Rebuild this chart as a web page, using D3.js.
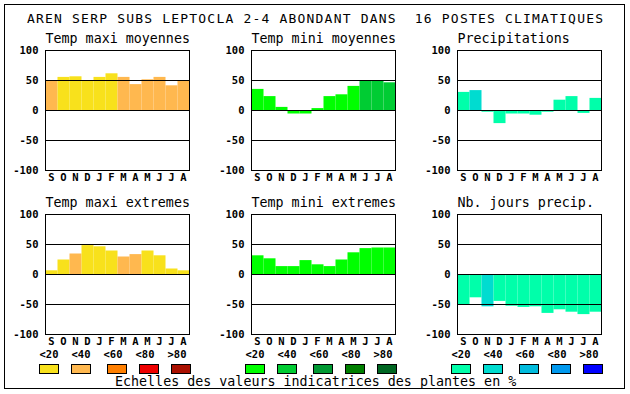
<!DOCTYPE html>
<html>
<head>
<meta charset="utf-8">
<script src="https://cdn.jsdelivr.net/npm/d3@7"></script>
<style>
  body { margin:0; background:#fff; }
  svg text { font-family:"DejaVu Sans Mono", monospace; }
</style>
</head>
<body>
<div class="chart"></div>
<script>
const months = ['S','O','N','D','J','F','M','A','M','J','J','A'];
const ticks = [100, 50, 0, -50, -100];
const classLabels = ['<20','<40','<60','<80','>80'];

const titles = ['Temp maxi moyennes','Temp mini moyennes','Precipitations',
                'Temp maxi extremes','Temp mini extremes','Nb. jours precip.'];

// values (%), and the class (0..4) of each bar
const tmaxMoy      = [50, 56, 57, 50, 56, 62, 56, 44, 52, 56, 42, 50];
const tmaxMoyClass = [1, 0, 0, 0, 0, 0, 1, 1, 1, 1, 1, 1];
const tminMoy      = [36, 24, 6, -5, -5, 4, 24, 27, 41, 50, 50, 47];
const tminMoyClass = [0, 0, 0, 0, 0, 0, 0, 0, 0, 1, 1, 1];
const precip       = [31, 34, -2, -21, -5, -5, -7, -2, 18, 24, -4, 21];
const precipClass  = [0, 1, 0, 0, 0, 0, 0, 0, 0, 0, 0, 0];
const tmaxExt      = [7, 25, 35, 49, 47, 40, 30, 34, 40, 32, 10, 7];
const tmaxExtClass = [0, 0, 1, 0, 0, 0, 1, 1, 0, 0, 0, 0];
const tminExt      = [32, 27, 14, 14, 24, 17, 14, 25, 37, 44, 45, 45];
const tminExtClass = [0, 0, 0, 0, 0, 0, 0, 0, 0, 0, 0, 0];
const nbJours      = [-50, -38, -53, -44, -52, -54, -53, -64, -58, -62, -66, -62];
const nbJoursClass = [0, 0, 1, 0, 0, 0, 0, 0, 0, 0, 0, 0];

const warm = ['#f8e11c','#ffb84f','#ff7f00','#ee0000','#aa1000'];
const cool = ['#00ff00','#00cc33','#009933','#007f00','#006622'];
const wet  = ['#00ffaa','#00dcd0','#00bbdd','#0099ee','#0000ff'];

const panels = [
  {title:titles[0], values:tmaxMoy, cls:tmaxMoyClass, palette:warm},
  {title:titles[1], values:tminMoy, cls:tminMoyClass, palette:cool},
  {title:titles[2], values:precip,  cls:precipClass,  palette:wet},
  {title:titles[3], values:tmaxExt, cls:tmaxExtClass, palette:warm},
  {title:titles[4], values:tminExt, cls:tminExtClass, palette:cool},
  {title:titles[5], values:nbJours, cls:nbJoursClass, palette:wet}
];

const W = 630, H = 394;
const svg = d3.select('.chart')
  .append('svg')
  .attr('width', W)
  .attr('height', H);

svg.append('rect')
  .attr('x', 4.5).attr('y', 4.5)
  .attr('width', 620).attr('height', 384)
  .attr('fill', 'none').attr('stroke', 'black');

svg.append('text')
  .attr('x', 27).attr('y', 23)
  .attr('font-size', 13)
  .attr('textLength', 576)
  .attr('lengthAdjust', 'spacing')
  .style('white-space', 'pre')
  .text('AREN SERP SUBS LEPTOCLA 2-4 ABONDANT DANS  16 POSTES CLIMATIQUES');

const colX = [45.5, 251.5, 457.5];
const rowY = [50.5, 214.5];
const pw = 144, ph = 120;

panels.forEach((p, i) => {
  const x0 = colX[i % 3], y0 = rowY[Math.floor(i / 3)];
  const g = svg.append('g');

  const xScale = d3.scaleBand()
    .domain(d3.range(months.length))
    .range([x0, x0 + pw])
    .padding(0);

  const yScale = d3.scaleLinear()
    .domain([-100, 100])
    .range([y0 + ph, y0]);

  g.append('text')
    .attr('x', x0).attr('y', y0 - 7.5)
    .attr('font-size', 13.33)
    .text(p.title);

  g.selectAll('.bar')
    .data(p.values)
    .enter()
    .append('rect')
    .attr('x', (d, k) => xScale(k))
    .attr('width', xScale.bandwidth())
    .attr('y', d => yScale(Math.max(0, d)))
    .attr('height', d => Math.abs(yScale(d) - yScale(0)))
    .attr('fill', (d, k) => p.palette[p.cls[k]]);

  g.selectAll('.grid')
    .data([50, 0, -50])
    .enter()
    .append('line')
    .attr('x1', x0).attr('x2', x0 + pw)
    .attr('y1', d => yScale(d)).attr('y2', d => yScale(d))
    .attr('stroke', 'black');

  g.append('rect')
    .attr('x', x0).attr('y', y0)
    .attr('width', pw).attr('height', ph)
    .attr('fill', 'none').attr('stroke', 'black');

  g.selectAll('.tick')
    .data(ticks)
    .enter()
    .append('text')
    .attr('x', x0 - 7)
    .attr('y', d => yScale(d) + 3.5)
    .attr('text-anchor', 'end')
    .attr('font-size', 10.5)
    .attr('font-weight', 'bold')
    .text(d => d);

  g.selectAll('.month')
    .data(months)
    .enter()
    .append('text')
    .attr('x', (d, k) => xScale(k) + xScale.bandwidth() / 2)
    .attr('y', y0 + ph + 10)
    .attr('text-anchor', 'middle')
    .attr('font-size', 10.5)
    .attr('font-weight', 'bold')
    .text(d => d);
});

// legends
const palettes = [warm, cool, wet];
const legendX = [39.5, 245.5, 451.5];
const boxOffset = [0, 32, 68, 100, 132];
palettes.forEach((pal, j) => {
  svg.selectAll('.lab' + j)
    .data(classLabels)
    .enter()
    .append('text')
    .attr('x', (d, k) => legendX[j] + k * 32)
    .attr('y', 357.5)
    .attr('font-size', 10.5)
    .attr('font-weight', 'bold')
    .text(d => d);

  svg.selectAll('.box' + j)
    .data(pal)
    .enter()
    .append('rect')
    .attr('x', (d, k) => legendX[j] + boxOffset[k])
    .attr('y', 364.5)
    .attr('width', 19)
    .attr('height', 9)
    .attr('fill', d => d)
    .attr('stroke', 'black');
});

svg.append('text')
  .attr('x', 115).attr('y', 386)
  .attr('font-size', 13.33)
  .text('Echelles des valeurs indicatrices des plantes en %');
</script>
</body>
</html>
